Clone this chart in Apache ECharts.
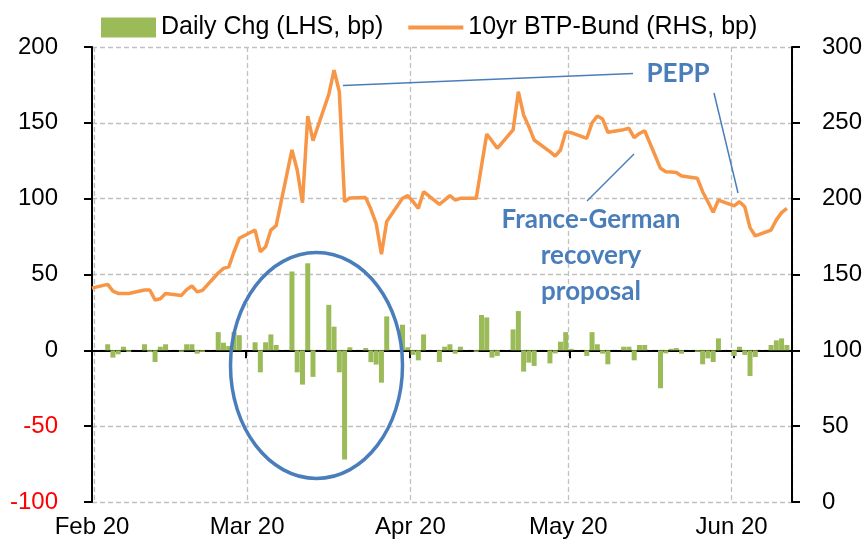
<!DOCTYPE html>
<html>
<head>
<meta charset="utf-8">
<script src="https://cdn.jsdelivr.net/npm/echarts@6/dist/echarts.min.js"></script>
<style>
  html, body { margin: 0; padding: 0; background: #fff; }
  #chart { width: 867px; height: 555px; }
</style>
</head>
<body>
<div id="chart"></div>
<script>
// business days (Jan 31 only feeds the start of the line)
var dates = ['2020-01-31',
  '2020-02-03','2020-02-04','2020-02-05','2020-02-06','2020-02-07','2020-02-10','2020-02-11','2020-02-12','2020-02-13','2020-02-14',
  '2020-02-17','2020-02-18','2020-02-19','2020-02-20','2020-02-21','2020-02-24','2020-02-25','2020-02-26','2020-02-27','2020-02-28',
  '2020-03-02','2020-03-03','2020-03-04','2020-03-05','2020-03-06','2020-03-09','2020-03-10','2020-03-11','2020-03-12','2020-03-13',
  '2020-03-16','2020-03-17','2020-03-18','2020-03-19','2020-03-20','2020-03-23','2020-03-24','2020-03-25','2020-03-26','2020-03-27',
  '2020-03-30','2020-03-31',
  '2020-04-01','2020-04-02','2020-04-03','2020-04-06','2020-04-07','2020-04-08','2020-04-09','2020-04-10','2020-04-13','2020-04-14',
  '2020-04-15','2020-04-16','2020-04-17','2020-04-20','2020-04-21','2020-04-22','2020-04-23','2020-04-24','2020-04-27','2020-04-28',
  '2020-04-29','2020-04-30',
  '2020-05-01','2020-05-04','2020-05-05','2020-05-06','2020-05-07','2020-05-08','2020-05-11','2020-05-12','2020-05-13','2020-05-14',
  '2020-05-15','2020-05-18','2020-05-19','2020-05-20','2020-05-21','2020-05-22','2020-05-25','2020-05-26','2020-05-27','2020-05-28',
  '2020-05-29',
  '2020-06-01','2020-06-02','2020-06-03','2020-06-04','2020-06-05','2020-06-08','2020-06-09','2020-06-10','2020-06-11'];

// Daily Chg (LHS, bp)
var dailyChg = [null,
  4, -4.8, -2.6, 2.4, -1, 4, -1, -7.7, 2.4, 4, -1, 4, 4, -2.2, -1, 12, 5, 2.9, 12, 10,
  5.3, -14.5, 5.3, 10.5, 3.5, 52, -14.5, -22.6, 57.4, -17.5, 30, 15.6, -14.5, -72, 2, 1.5, -7.8, -9.4, -21.3, 22.4, 16.9, 2,
  -3, -6.6, 10.5, -7.7, 2.4, 4, -2.2, 2.4, -1, 23.3, 21.7, -4.8, -3.7, 13.8, 25.9, -14, -8.1, -10.3, -8.6, -2, 5.7, 12,
  1, -3.7, 12, 4, -2.2, -9.2, 2.4, 2.4, -6.6, 3.5, 3.5, -25, -2, 1, 1.5, -2.2, -1, -9.2, -5.3, -7.7, 7.9,
  -3.7, 2.4, -3, -16.9, -4.4, 3.5, 6.6, 7.9, 3.5];

// 10yr BTP-Bund (RHS, bp)
var spread = [141,
  143.5, 139, 137.5, 137.4, 137.5, 139.8, 139.8, 133.2, 134, 137.4, 136.2, 140, 142.4, 138.5, 139.5, 151, 154, 155, 165, 173.9,
  179.3, 165, 168.3, 179.3, 182.2, 232.1, 218.9, 197.4, 254.5, 238.2, 268.8, 284.8, 270.5, 198, 200.5, 200.7, 193, 183.5, 163.3, 185, 200.3, 202,
  198, 193.6, 204.6, 196.3, 199, 202, 199.1, 200.2, 200.2, 221.5, 242.6, 238, 233.2, 245.3, 270.5, 255.2, 247.5, 238.7, 231, 228.1, 232.1, 244,
  243.5, 239.8, 250, 254.5, 252.5, 243.8, 245.5, 246.4, 240.2, 243, 244.8, 220, 217.8, 217.6, 217.2, 215, 213.4, 204.6, 198, 191, 199.1,
  195.2, 198, 194.7, 180.9, 175.4, 179.3, 186, 190.8, 193.6];

var monthNames = ['Jan','Feb','Mar','Apr','May','Jun','Jul','Aug','Sep','Oct','Nov','Dec'];
var legendNames = ['Daily Chg (LHS, bp)', '10yr BTP-Bund (RHS, bp)'];

var labelFont = 'Liberation Sans, Arial, sans-serif';
var noteColor = '#4a7ebb';
var gridDash = { color: '#c0c0c0', width: 1.3, type: [5, 3] };
var DAY = 86400000;

// each point sits in the middle of its day slot, like Excel's date axis
function pairs(vals) {
  var arr = [];
  for (var i = 0; i < dates.length; i++) {
    arr.push([dates[i] + ' 12:00', vals[i]]);
  }
  return arr;
}

var chart = echarts.init(document.getElementById('chart'));

var option = {
  backgroundColor: '#fff',
  animation: false,
  legend: {
    data: [
      { name: legendNames[0], icon: 'rect' },
      { name: legendNames[1], icon: 'path://M0,0H60V4.2H0Z' }
    ],
    left: 96,
    top: 10,
    itemWidth: 55,
    itemHeight: 20,
    itemGap: 25,
    textStyle: { fontFamily: labelFont, fontSize: 25, color: '#000' }
  },
  grid: { left: 92, right: 75, top: 47, bottom: 53 },
  xAxis: [{
    // labels + vertical dashed gridlines at the bottom
    type: 'time',
    min: new Date(2020, 1, 1).getTime(),
    max: new Date(2020, 5, 12).getTime(),
    minInterval: 28 * DAY,
    maxInterval: 31 * DAY,
    position: 'bottom',
    axisLine: { show: false, onZero: false },
    axisTick: { show: false },
    splitLine: { show: true, lineStyle: gridDash },
    axisLabel: {
      margin: 13,
      fontFamily: labelFont,
      fontSize: 24,
      color: '#000',
      showMinLabel: true,
      formatter: function (val) {
        var d = new Date(val + 2 * DAY);
        return monthNames[d.getMonth()] + ' ' + String(d.getFullYear()).slice(2);
      }
    }
  }, {
    // black axis line on zero with month ticks
    type: 'time',
    min: new Date(2020, 1, 1).getTime(),
    max: new Date(2020, 5, 12).getTime(),
    minInterval: 28 * DAY,
    maxInterval: 31 * DAY,
    position: 'bottom',
    axisLine: { show: true, onZero: true, onZeroAxisIndex: 0, lineStyle: { color: '#000', width: 2 } },
    axisTick: { show: true, length: 8, lineStyle: { color: '#000', width: 2 } },
    axisLabel: { show: false },
    splitLine: { show: false }
  }],
  yAxis: [{
    type: 'value',
    min: -100,
    max: 200,
    interval: 50,
    position: 'left',
    axisLine: { show: true, lineStyle: { color: '#000', width: 2 } },
    axisTick: { show: true, length: 8, lineStyle: { color: '#000', width: 2 } },
    splitLine: { show: true, lineStyle: gridDash },
    axisLabel: {
      margin: 34,
      fontFamily: labelFont,
      fontSize: 24,
      color: function (val) {
        return Number(val) < 0 ? '#ff0000' : '#000';
      }
    }
  }, {
    type: 'value',
    min: 0,
    max: 300,
    interval: 50,
    position: 'right',
    axisLine: { show: true, lineStyle: { color: '#000', width: 2 } },
    axisTick: { show: true, length: 8, lineStyle: { color: '#000', width: 2 } },
    splitLine: { show: false },
    axisLabel: { margin: 30, fontFamily: labelFont, fontSize: 24, color: '#000' }
  }],
  series: [{
    name: legendNames[0],
    type: 'bar',
    xAxisIndex: 0,
    yAxisIndex: 0,
    barWidth: 5,
    itemStyle: { color: '#9bbb59' },
    data: pairs(dailyChg)
  }, {
    name: legendNames[1],
    type: 'line',
    xAxisIndex: 0,
    yAxisIndex: 1,
    symbol: 'none',
    lineStyle: { color: '#f79646', width: 3.5 },
    itemStyle: { color: '#f79646' },
    data: pairs(spread)
  }],
  graphic: [
    { type: 'ellipse', z: 100, shape: { cx: 316.5, cy: 365.5, rx: 86, ry: 113 },
      style: { fill: 'none', stroke: noteColor, lineWidth: 3.5 } },
    { type: 'line', z: 100, shape: { x1: 343, y1: 85.5, x2: 633, y2: 73.5 },
      style: { stroke: noteColor, lineWidth: 1.5 } },
    { type: 'line', z: 100, shape: { x1: 714, y1: 93, x2: 738, y2: 193 },
      style: { stroke: noteColor, lineWidth: 1.5 } },
    { type: 'line', z: 100, shape: { x1: 587, y1: 201, x2: 634, y2: 154 },
      style: { stroke: noteColor, lineWidth: 1.5 } },
    { type: 'text', z: 100, x: 678, y: 74,
      style: { text: 'PEPP', fill: noteColor, font: 'bold 26px Lato, sans-serif', align: 'center', verticalAlign: 'middle' } },
    { type: 'text', z: 100, x: 591, y: 256,
      style: { text: 'France-German\nrecovery\nproposal', fill: noteColor, font: 'bold 26px Lato, sans-serif',
        lineHeight: 36, align: 'center', verticalAlign: 'middle' } }
  ]
};

chart.setOption(option);
</script>
</body>
</html>
